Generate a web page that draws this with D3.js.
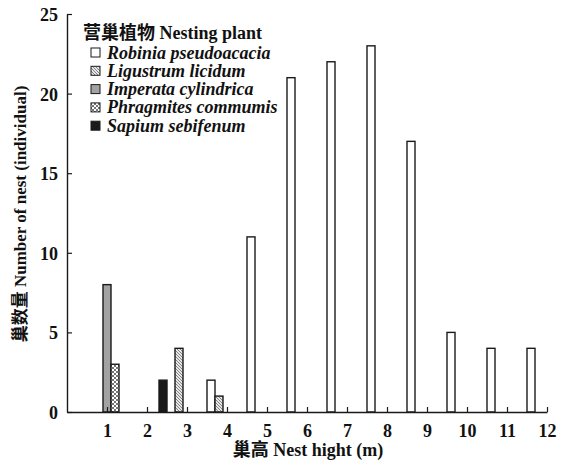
<!DOCTYPE html>
<html>
<head>
<meta charset="utf-8">
<script src="https://cdn.jsdelivr.net/npm/d3@7"></script>
<style>
  body { margin: 0; background: #fff; }
</style>
</head>
<body>
<div id="chart"></div>
<script>
// Data: nest height groups (m) and nest counts per nesting plant
const heights = [1, 2, 3, 4, 5, 6, 7, 8, 9, 10, 11, 12];
const plants = ["Robinia pseudoacacia", "Ligustrum licidum", "Imperata cylindrica", "Phragmites commumis", "Sapium sebifenum"];
const robinia    = [0, 0, 0, 2, 11, 21, 22, 23, 17, 5, 4, 4];
const ligustrum  = [0, 0, 4, 1, 0, 0, 0, 0, 0, 0, 0, 0];
const imperata   = [8, 0, 0, 0, 0, 0, 0, 0, 0, 0, 0, 0];
const phragmites = [3, 0, 0, 0, 0, 0, 0, 0, 0, 0, 0, 0];
const sapium     = [0, 2, 0, 0, 0, 0, 0, 0, 0, 0, 0, 0];
const series = [robinia, ligustrum, imperata, phragmites, sapium];
const yTicks = [0, 5, 10, 15, 20, 25];

const FONT = "'Liberation Serif', 'Noto Sans CJK SC', serif";

const W = 574, H = 463;
const margin = { top: 14, right: 27, bottom: 51, left: 67 };
const width = W - margin.left - margin.right;
const height = H - margin.top - margin.bottom;

const svg = d3.select("#chart").append("svg")
  .attr("width", W)
  .attr("height", H);

// patterns for the hatched fills
const defs = svg.append("defs");
const hatch = defs.append("pattern")
  .attr("id", "hatch").attr("patternUnits", "userSpaceOnUse")
  .attr("width", 3).attr("height", 3);
hatch.append("rect").attr("width", 3).attr("height", 3).attr("fill", "#e8e8e8");
hatch.append("path").attr("d", "M-1,-1 L4,4 M-1,2 L1,4 M2,-1 L4,1")
  .attr("stroke", "#777").attr("stroke-width", 0.9);

const cross = defs.append("pattern")
  .attr("id", "cross").attr("patternUnits", "userSpaceOnUse")
  .attr("width", 4).attr("height", 4);
cross.append("rect").attr("width", 4).attr("height", 4).attr("fill", "#fff");
cross.append("path").attr("d", "M0,0 L4,4 M4,0 L0,4")
  .attr("stroke", "#666").attr("stroke-width", 0.9);

const fills = ["#fff", "url(#hatch)", "#a2a2a2", "url(#cross)", "#1a1a1a"];

const g = svg.append("g")
  .attr("transform", `translate(${margin.left},${margin.top})`);

// x is linear 0..12, each group spans [k-0.5, k+0.5] split in 5 slots
const x = d3.scaleLinear().domain([0, 12]).range([0, width]);
const y = d3.scaleLinear().domain([0, 25]).range([height, 0]);
const slot = 1 / plants.length;

// bars
series.forEach((vals, si) => {
  g.selectAll(".bar" + si)
    .data(heights.map((h, i) => ({ h: h, v: vals[i] })).filter(d => d.v > 0))
    .enter().append("rect")
    .attr("x", d => x(d.h - 0.5 + si * slot))
    .attr("y", d => y(d.v))
    .attr("width", x(slot) - x(0))
    .attr("height", d => height - y(d.v))
    .attr("fill", fills[si])
    .attr("stroke", "#1a1a1a")
    .attr("stroke-width", 1.4);
});

// axes
const xAxis = d3.axisBottom(x)
  .tickValues(heights)
  .tickSizeInner(-5)
  .tickSizeOuter(0)
  .tickPadding(12);

const yAxis = d3.axisLeft(y)
  .tickValues(yTicks)
  .tickSizeInner(-5)
  .tickSizeOuter(0)
  .tickPadding(9);

function styleAxis(sel) {
  sel.attr("font-family", null).attr("font-size", null);
  sel.select(".domain").attr("stroke", "#1a1a1a").attr("stroke-width", 1.4);
  sel.selectAll(".tick line").attr("stroke", "#1a1a1a").attr("stroke-width", 1.2);
  sel.selectAll("text")
    .style("font-size", "18px")
    .style("font-family", FONT)
    .style("font-weight", "bold")
    .attr("fill", "#111");
}

g.append("g")
  .attr("transform", `translate(0,${height})`)
  .call(xAxis)
  .call(styleAxis);

g.append("g")
  .call(yAxis)
  .call(styleAxis)
  .selectAll("text").attr("dy", "0.36em");

// axis titles
svg.append("text")
  .attr("x", 308).attr("y", 456)
  .attr("text-anchor", "middle")
  .style("font-family", FONT).style("font-weight", "bold")
  .style("font-size", "18px")
  .attr("fill", "#111")
  .text("巢高 Nest hight (m)");

svg.append("text")
  .attr("transform", "translate(26,214) rotate(-90)")
  .attr("text-anchor", "middle")
  .style("font-family", FONT).style("font-weight", "bold")
  .style("font-size", "17px")
  .attr("fill", "#111")
  .text("巢数量 Number of nest (individual)");

// legend
const legend = svg.append("g").attr("transform", "translate(83,0)");
legend.append("text")
  .attr("x", 0).attr("y", 39)
  .style("font-family", FONT).style("font-weight", "bold")
  .style("font-size", "18px")
  .attr("fill", "#111")
  .text("营巢植物 Nesting plant");

plants.forEach((p, i) => {
  const cy = 53 + i * 18.3;
  legend.append("rect")
    .attr("x", 8).attr("y", cy - 5)
    .attr("width", 9).attr("height", 9)
    .attr("fill", fills[i])
    .attr("stroke", "#1a1a1a")
    .attr("stroke-width", 1);
  legend.append("text")
    .attr("x", 24).attr("y", cy + 5.5)
    .style("font-family", FONT).style("font-weight", "bold")
    .style("font-size", "18px")
    .style("font-style", "italic")
    .attr("fill", "#111")
    .text(p);
});
</script>
</body>
</html>
